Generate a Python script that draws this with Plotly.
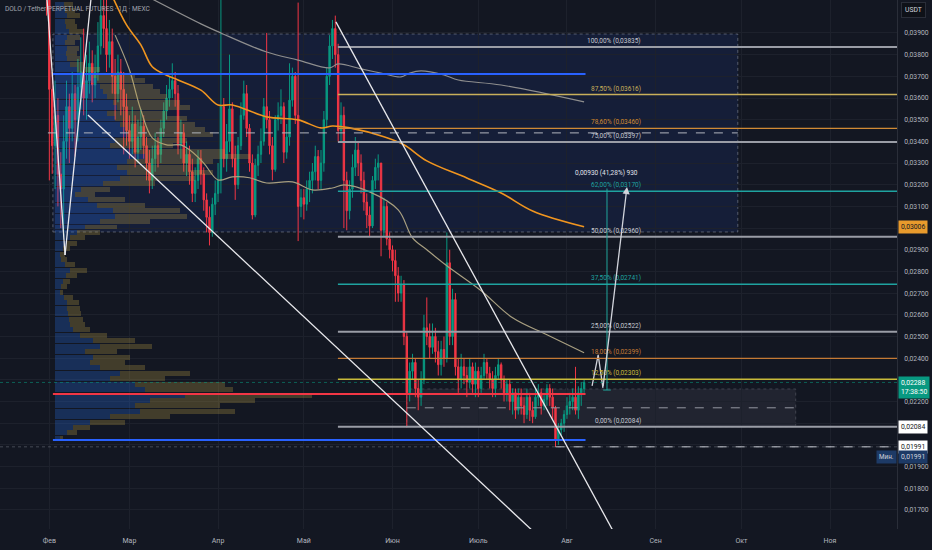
import plotly.graph_objects as go
import pandas as pd

# ---------------- data ----------------
START_DATE = "2025-01-31"
FIRST_OPEN = 0.0440
CLOSE = [
    # Jan 31 + Feb
    0.0415, 0.0364, 0.0338, 0.0352, 0.0325, 0.0318, 0.0340, 0.0356, 0.0346, 0.0362,
    0.0350, 0.0365, 0.0372, 0.0360, 0.0368, 0.0376, 0.0366, 0.0372, 0.0384, 0.0398,
    0.0392, 0.0380, 0.0386, 0.0370, 0.0362, 0.0372, 0.0364, 0.0356, 0.0345,
    # Mar
    0.0340, 0.0348, 0.0335, 0.0342, 0.0347, 0.0338, 0.0330, 0.0322, 0.0332, 0.0338,
    0.0334, 0.0346, 0.0354, 0.0360, 0.0364, 0.0368, 0.0362, 0.0338, 0.0344, 0.0330,
    0.0334, 0.0326, 0.0316, 0.0322, 0.0332, 0.0325, 0.0313, 0.0305, 0.0298, 0.0311,
    0.0316,
    # Apr
    0.0322, 0.0356, 0.0332, 0.0340, 0.0355, 0.0332, 0.0320, 0.0338, 0.0352, 0.0362,
    0.0346, 0.0330, 0.0306, 0.0329, 0.0334, 0.0340, 0.0356, 0.0350, 0.0338, 0.0327,
    0.0350, 0.0352, 0.0356, 0.0335, 0.0342, 0.0359, 0.0370, 0.0352, 0.0310, 0.0314,
    # May
    0.0311, 0.0318, 0.0322, 0.0326, 0.0333, 0.0322, 0.0330, 0.0350, 0.0370, 0.0384,
    0.0392, 0.0380, 0.0345, 0.0352, 0.0322, 0.0308, 0.0318, 0.0328, 0.0336, 0.0330,
    0.0322, 0.0312, 0.0306, 0.0301, 0.0322, 0.0328, 0.0330, 0.0299, 0.0310, 0.0295,
    0.0290,
    # Jun
    0.0285, 0.0278, 0.0270, 0.0274, 0.0250, 0.0224, 0.0234, 0.0238, 0.0226, 0.0222,
    0.0230, 0.0254, 0.0250, 0.0245, 0.0250, 0.0243, 0.0237, 0.0244, 0.0240, 0.0284,
    0.0250, 0.0267, 0.0236, 0.0230, 0.0236, 0.0232, 0.0229, 0.0236, 0.0228, 0.0234,
    # Jul
    0.0226, 0.0232, 0.0238, 0.0233, 0.0230, 0.0226, 0.0232, 0.0237, 0.0230, 0.0224,
    0.0228, 0.0220, 0.0224, 0.0216, 0.0222, 0.0218, 0.0214, 0.0222, 0.0216, 0.0213,
    0.0222, 0.0224, 0.0218, 0.0221, 0.0226, 0.0222, 0.0217, 0.0202, 0.0207, 0.0210,
    0.0214,
    # Aug
    0.0218, 0.0220, 0.0222, 0.0216, 0.0224, 0.0226, 0.02288,
]
HIGH = [
    0.0452, 0.0418, 0.0372, 0.0368, 0.0360, 0.0335, 0.0352, 0.0368, 0.0362, 0.0372,
    0.0366, 0.0378, 0.0388, 0.0392, 0.0380, 0.0386, 0.0382, 0.0380, 0.0395, 0.0412,
    0.0420, 0.0408, 0.0396, 0.0392, 0.0378, 0.0380, 0.0378, 0.0372, 0.0362,
    0.0352, 0.0356, 0.0352, 0.0350, 0.0355, 0.0352, 0.0342, 0.0336, 0.0338, 0.0344,
    0.0342, 0.0350, 0.0358, 0.0366, 0.0370, 0.0376, 0.0372, 0.0366, 0.0350, 0.0348,
    0.0340, 0.0338, 0.0332, 0.0328, 0.0336, 0.0336, 0.0328, 0.0316, 0.0310, 0.0314,
    0.0322,
    0.0330, 0.0412, 0.0360, 0.0348, 0.0380, 0.0358, 0.0338, 0.0342, 0.0358, 0.0368,
    0.0366, 0.0348, 0.0334, 0.0332, 0.0338, 0.0346, 0.0360, 0.0390, 0.0354, 0.0342,
    0.0352, 0.0358, 0.0364, 0.0358, 0.0348, 0.0376, 0.0374, 0.0372, 0.0404, 0.0318,
    0.0318, 0.0322, 0.0326, 0.0330, 0.0338, 0.0336, 0.0336, 0.0354, 0.0374, 0.0389,
    0.0396, 0.0398, 0.0385, 0.0358, 0.0356, 0.0326, 0.0322, 0.0334, 0.0342, 0.0340,
    0.0334, 0.0326, 0.0316, 0.0310, 0.0324, 0.0332, 0.0334, 0.0328, 0.0314, 0.0312,
    0.0298,
    0.0292, 0.0290, 0.0282, 0.0278, 0.0276, 0.0252, 0.0238, 0.0242, 0.0240, 0.0230,
    0.0234, 0.0260, 0.0268, 0.0256, 0.0256, 0.0254, 0.0248, 0.0248, 0.0250, 0.0298,
    0.0290, 0.0272, 0.0270, 0.0240, 0.0242, 0.0240, 0.0236, 0.0240, 0.0238, 0.0238,
    0.0236, 0.0236, 0.0242, 0.0240, 0.0236, 0.0234, 0.0236, 0.0240, 0.0238, 0.0232,
    0.0230, 0.0230, 0.0226, 0.0226, 0.0226, 0.0226, 0.0222, 0.0226, 0.0224, 0.0220,
    0.0226, 0.0228, 0.0226, 0.0224, 0.0228, 0.0228, 0.0226, 0.0218, 0.0210, 0.0212,
    0.0216,
    0.0222, 0.0224, 0.0226, 0.0236, 0.0227, 0.0229, 0.0230,
]
LOW = [
    0.0398, 0.0322, 0.0325, 0.0318, 0.0310, 0.0300, 0.0296, 0.0332, 0.0330, 0.0340,
    0.0333, 0.0340, 0.0355, 0.0352, 0.0350, 0.0362, 0.0358, 0.0360, 0.0368, 0.0380,
    0.0383, 0.0372, 0.0374, 0.0362, 0.0350, 0.0358, 0.0352, 0.0334, 0.0338,
    0.0332, 0.0334, 0.0328, 0.0330, 0.0336, 0.0332, 0.0322, 0.0316, 0.0318, 0.0326,
    0.0328, 0.0330, 0.0342, 0.0350, 0.0356, 0.0360, 0.0356, 0.0334, 0.0332, 0.0326,
    0.0324, 0.0320, 0.0312, 0.0312, 0.0318, 0.0320, 0.0308, 0.0298, 0.0292, 0.0296,
    0.0306,
    0.0312, 0.0316, 0.0328, 0.0326, 0.0335, 0.0328, 0.0313, 0.0318, 0.0336, 0.0350,
    0.0342, 0.0326, 0.0304, 0.0305, 0.0324, 0.0330, 0.0338, 0.0346, 0.0334, 0.0322,
    0.0326, 0.0345, 0.0348, 0.0330, 0.0332, 0.0338, 0.0356, 0.0348, 0.0294, 0.0305,
    0.0304, 0.0308, 0.0312, 0.0316, 0.0322, 0.0318, 0.0318, 0.0326, 0.0346, 0.0366,
    0.0378, 0.0374, 0.0340, 0.0340, 0.0300, 0.0299, 0.0304, 0.0314, 0.0324, 0.0324,
    0.0316, 0.0308, 0.0300, 0.0296, 0.0300, 0.0318, 0.0322, 0.0287, 0.0296, 0.0292,
    0.0286,
    0.0280, 0.0266, 0.0266, 0.0266, 0.0246, 0.0208, 0.0220, 0.0230, 0.0222, 0.0216,
    0.0218, 0.0228, 0.0246, 0.0240, 0.0242, 0.0238, 0.0232, 0.0232, 0.0236, 0.0238,
    0.0246, 0.0246, 0.0232, 0.0224, 0.0226, 0.0228, 0.0222, 0.0226, 0.0224, 0.0222,
    0.0222, 0.0224, 0.0230, 0.0230, 0.0226, 0.0222, 0.0222, 0.0230, 0.0226, 0.0220,
    0.0220, 0.0216, 0.0214, 0.0212, 0.0214, 0.0214, 0.0210, 0.0212, 0.0211, 0.0210,
    0.0212, 0.0218, 0.0214, 0.0216, 0.0218, 0.0218, 0.0212, 0.01991, 0.0200, 0.0204,
    0.0206,
    0.0212, 0.0214, 0.0216, 0.0214, 0.0212, 0.0218, 0.0224,
]

# moving averages (read at sample dates)
MA_SLOW_DATES = ["2025-03-07", "2025-03-26", "2025-04-02", "2025-04-18", "2025-04-29", "2025-05-10",
                 "2025-05-13", "2025-05-21", "2025-05-28", "2025-06-04", "2025-06-07", "2025-06-11",
                 "2025-06-19", "2025-06-24", "2025-07-09", "2025-08-07"]
MA_SLOW = [0.0407, 0.03942, 0.0390, 0.03812, 0.03775, 0.03739, 0.03757, 0.03734, 0.03715, 0.03697,
           0.03715, 0.03725, 0.03706, 0.03683, 0.0366, 0.03582]
MA_MID_DATES = ["2025-02-23", "2025-02-28", "2025-03-05", "2025-03-09", "2025-03-14", "2025-03-18",
                "2025-03-26", "2025-04-01", "2025-04-06", "2025-04-18", "2025-04-29", "2025-05-07",
                "2025-05-11", "2025-05-17", "2025-05-29", "2025-06-05", "2025-06-13", "2025-06-27",
                "2025-07-09", "2025-07-20", "2025-08-07"]
MA_MID = [0.0407, 0.03937, 0.03845, 0.03744, 0.03705, 0.03683, 0.03636, 0.03568, 0.03568, 0.03513,
          0.03499, 0.03462, 0.03471, 0.03462, 0.03421, 0.03384, 0.0331, 0.03231, 0.03162, 0.03079,
          0.03006]
MA_FAST_DATES = ["2025-02-24", "2025-03-01", "2025-03-05", "2025-03-09", "2025-03-14", "2025-03-19",
                 "2025-03-22", "2025-03-27", "2025-04-01", "2025-04-06", "2025-04-12", "2025-04-18",
                 "2025-04-27", "2025-05-04", "2025-05-11", "2025-05-15", "2025-05-24", "2025-06-03",
                 "2025-06-08", "2025-06-13", "2025-06-20", "2025-07-02", "2025-07-13", "2025-07-25",
                 "2025-08-07"]
MA_FAST = [0.0389, 0.0373, 0.03545, 0.03416, 0.03384, 0.03384, 0.03361, 0.0330, 0.03222, 0.03236,
           0.03232, 0.03208, 0.03213, 0.03176, 0.03185, 0.03199, 0.03167, 0.03084, 0.02955, 0.0290,
           0.02826, 0.02711, 0.02586, 0.02508, 0.02425]

# volume profile rows (price bins) : total and up volume
VP_FIRST, VP_STEP = 0.0203, 0.00025
VP_TOTAL = [8, 22, 35, 70, 115, 180, 165, 200, 257, 178, 170, 110, 135, 90, 70, 75, 62, 97, 80, 52,
            35, 30, 28, 26, 25, 24, 18, 8, 12, 15, 22, 32, 20, 12, 10, 15, 22, 30, 45, 62,
            95, 132, 125, 90, 70, 40, 55, 100, 140, 158, 135, 158, 195, 170, 118, 132, 158, 150, 140, 132,
            112, 135, 125, 112, 105, 98, 90, 80, 45, 30, 25, 22, 24, 20, 25, 28, 22, 20, 25, 20, 18]
VP_UP = [5, 12, 18, 35, 55, 85, 80, 95, 130, 90, 80, 55, 65, 45, 35, 38, 30, 45, 38, 25,
         18, 15, 14, 13, 12, 12, 9, 5, 6, 8, 11, 15, 10, 6, 5, 8, 11, 15, 22, 30,
         45, 60, 58, 42, 33, 20, 26, 48, 65, 72, 62, 72, 90, 78, 55, 60, 72, 70, 65, 60,
         52, 62, 58, 52, 48, 45, 42, 38, 22, 15, 12, 11, 12, 10, 12, 14, 11, 10, 12, 10, 9]

# fibonacci retracement
FIB_LEVEL = ["100,00%", "87,50%", "78,60%", "75,00%", "62,00%", "50,00%", "37,50%", "25,00%",
             "18,00%", "12,50%", "0,00%"]
FIB_PRICE = [0.03835, 0.03616, 0.03460, 0.03397, 0.03170, 0.02960, 0.02741, 0.02522,
             0.02399, 0.02303, 0.02084]
FIB_COLOR = ["#9a9da6", "#c9b05a", "#d08a35", "#9a9da6", "#1fa3a0", "#9a9da6", "#1fa3a0", "#9a9da6",
             "#c47a35", "#c9bb3a", "#9a9da6"]
FIB_START = "2025-05-12 22:00"
FIB_LABEL_END = "2025-08-27 18:00"

# key horizontal levels
POC_PRICE = 0.02235
VA_HIGH, VA_LOW = 0.03711, 0.02023
PROFILE_START, PROFILE_END = "2025-02-02 06:00", "2025-08-07 12:00"
DASH_TOP = 0.03439
MIN_PRICE = 0.01991
MIN_DATE = "2025-07-28 00:00"
LAST_PRICE = 0.02288
MA_LAST = 0.03006

# drawn boxes
BIG_BOX = ("2025-02-02 06:00", "2025-09-29 18:00", 0.02982, 0.03895)
RANGE_BOX = ("2025-06-06 00:00", "2025-10-20 00:00", 0.02084, 0.02258)

# trend lines (date, price, date, price)
TRENDS = [
    ("2025-01-31 04:00", 0.04060, "2025-02-06 12:00", 0.02876),
    ("2025-02-06 12:00", 0.02876, "2025-02-15 14:00", 0.04060),
    ("2025-02-14 12:00", 0.03522, "2025-07-20 19:00", 0.01594),
    ("2025-05-12 05:00", 0.03951, "2025-08-17 12:00", 0.01594),
]
ZIGZAG_DATES = ["2025-08-09 19:00", "2025-08-11 22:00", "2025-08-13 14:00"]
ZIGZAG_PRICES = [0.02272, 0.02415, 0.02263]
ARROW_TIP = ("2025-08-22 00:00", 0.0319)
MEASURE = ("2025-08-15 00:00", 0.02253, 0.03183)
MEASURE_TEXT = "0,00930 (41,28%) 930"

MONTH_TICKS = ["2025-02-01", "2025-03-01", "2025-04-01", "2025-05-01", "2025-06-01", "2025-07-01",
               "2025-08-01", "2025-09-01", "2025-10-01", "2025-11-01"]
MONTH_LABELS = ["Фев", "Мар", "Апр", "Май", "Июн", "Июль", "Авг", "Сен", "Окт", "Ноя"]
PRICE_TICKS = [0.017, 0.018, 0.019, 0.020, 0.021, 0.022, 0.023, 0.024, 0.025, 0.026, 0.027, 0.028,
               0.029, 0.030, 0.031, 0.032, 0.033, 0.034, 0.035, 0.036, 0.037, 0.038, 0.039]
PRICE_TICK_LABELS = ["0,01700", "0,01800", "0,01900", "", "", "0,02200", "", "0,02400", "0,02500",
                     "0,02600", "0,02700", "0,02800", "0,02900", "", "0,03100", "0,03200", "0,03300",
                     "0,03400", "0,03500", "0,03600", "0,03700", "0,03800", "0,03900"]

X_RANGE = ["2025-01-14 18:00", "2025-11-24 10:00"]
Y_RANGE = [0.01612, 0.04052]

# ---------------- styling ----------------
BG = "#131722"
UP = "#089981"
DN = "#f23645"
TXT = "#b2b5be"
FONT = "Roboto"


def fmt(p):
    return f"{p:.5f}".replace(".", ",")


dates = pd.date_range(START_DATE, periods=len(CLOSE), freq="D")
opens = [FIRST_OPEN] + CLOSE[:-1]
highs = [max(h, o, c) for h, o, c in zip(HIGH, opens, CLOSE)]
lows = [min(l, o, c) for l, o, c in zip(LOW, opens, CLOSE)]
vp_prices = [round(VP_FIRST + VP_STEP * k, 5) for k in range(len(VP_TOTAL))]
vp_down = [t - u for t, u in zip(VP_TOTAL, VP_UP)]

fig = go.Figure()

# volume profile on hidden overlay axis (units = pixels)
fig.add_trace(go.Bar(x=VP_UP, y=vp_prices, orientation="h", xaxis="x2", yaxis="y",
                     width=0.00023, marker=dict(color="rgba(41,110,230,0.28)", line=dict(width=0)),
                     hoverinfo="skip"))
fig.add_trace(go.Bar(x=vp_down, y=vp_prices, orientation="h", xaxis="x2", yaxis="y",
                     width=0.00023, marker=dict(color="rgba(190,160,70,0.28)", line=dict(width=0)),
                     hoverinfo="skip"))

fig.add_trace(go.Candlestick(
    x=dates, open=opens, high=highs, low=lows, close=CLOSE,
    increasing=dict(line=dict(color=UP, width=1), fillcolor=UP),
    decreasing=dict(line=dict(color=DN, width=1), fillcolor=DN),
    whiskerwidth=0, hoverinfo="skip"))

fig.add_trace(go.Scatter(x=MA_SLOW_DATES, y=MA_SLOW, mode="lines",
                         line=dict(color="#8e8e8e", width=1.2, shape="spline"), hoverinfo="skip"))
fig.add_trace(go.Scatter(x=MA_MID_DATES, y=MA_MID, mode="lines",
                         line=dict(color="#f0951f", width=1.6, shape="spline"), hoverinfo="skip"))
fig.add_trace(go.Scatter(x=MA_FAST_DATES, y=MA_FAST, mode="lines",
                         line=dict(color="#a89f80", width=1.2, shape="spline"), hoverinfo="skip"))

# zigzag projection
fig.add_trace(go.Scatter(x=ZIGZAG_DATES, y=ZIGZAG_PRICES, mode="lines",
                         line=dict(color="#d1d4dc", width=1.3), hoverinfo="skip"))

shapes = []
# big translucent box
shapes.append(dict(type="rect", xref="x", yref="y", x0=BIG_BOX[0], x1=BIG_BOX[1], y0=BIG_BOX[2],
                   y1=BIG_BOX[3], fillcolor="rgba(41,98,255,0.10)",
                   line=dict(color="rgba(140,145,160,0.55)", width=1, dash="dot"), layer="below"))
# range box
shapes.append(dict(type="rect", xref="x", yref="y", x0=RANGE_BOX[0], x1=RANGE_BOX[1], y0=RANGE_BOX[2],
                   y1=RANGE_BOX[3], fillcolor="rgba(120,123,134,0.14)",
                   line=dict(color="rgba(120,123,134,0.4)", width=1, dash="dot"), layer="below"))
shapes.append(dict(type="line", xref="x", yref="y", x0=RANGE_BOX[0], x1=RANGE_BOX[1],
                   y0=(RANGE_BOX[2] + RANGE_BOX[3]) / 2, y1=(RANGE_BOX[2] + RANGE_BOX[3]) / 2,
                   line=dict(color="#9598a1", width=1, dash="dash")))
# dashed top line inside big box
shapes.append(dict(type="line", xref="x", yref="y", x0="2025-01-31 12:00", x1=BIG_BOX[1],
                   y0=DASH_TOP, y1=DASH_TOP, line=dict(color="#b2b5be", width=1, dash="dash")))
# last price dotted line
shapes.append(dict(type="line", xref="x", yref="y", x0=X_RANGE[0], x1=X_RANGE[1],
                   y0=LAST_PRICE, y1=LAST_PRICE, line=dict(color="rgba(8,153,129,0.55)", width=1, dash="dot")))
# min price lines
shapes.append(dict(type="line", xref="x", yref="y", x0=X_RANGE[0], x1=X_RANGE[1],
                   y0=MIN_PRICE, y1=MIN_PRICE, line=dict(color="rgba(120,123,134,0.5)", width=1, dash="dot")))
shapes.append(dict(type="line", xref="x", yref="y", x0=MIN_DATE, x1=X_RANGE[1],
                   y0=MIN_PRICE, y1=MIN_PRICE, line=dict(color="#c5c8d0", width=1, dash="dash")))
# fib lines
for p, c in zip(FIB_PRICE, FIB_COLOR):
    w = 2 if c == "#9a9da6" else 1.4
    shapes.append(dict(type="line", xref="x", yref="y", x0=FIB_START, x1=X_RANGE[1], y0=p, y1=p,
                       line=dict(color=c, width=w)))
# profile lines
shapes.append(dict(type="line", xref="x", yref="y", x0=PROFILE_START, x1=PROFILE_END,
                   y0=VA_HIGH, y1=VA_HIGH, line=dict(color="#2962ff", width=2)))
shapes.append(dict(type="line", xref="x", yref="y", x0=PROFILE_START, x1=PROFILE_END,
                   y0=VA_LOW, y1=VA_LOW, line=dict(color="#2962ff", width=2)))
shapes.append(dict(type="line", xref="x", yref="y", x0=PROFILE_START, x1=PROFILE_END,
                   y0=POC_PRICE, y1=POC_PRICE, line=dict(color="#f23645", width=2)))
# trend lines
for x0, y0, x1, y1 in TRENDS:
    shapes.append(dict(type="line", xref="x", yref="y", x0=x0, y0=y0, x1=x1, y1=y1,
                       line=dict(color="#e8e8ec", width=1.3)))
# measure tool
shapes.append(dict(type="line", xref="x", yref="y", x0=MEASURE[0], x1=MEASURE[0], y0=MEASURE[1],
                   y1=MEASURE[2], line=dict(color="rgba(34,171,160,0.8)", width=1.2)))
shapes.append(dict(type="line", xref="x", yref="y", x0="2025-08-13 16:00", x1="2025-08-16 08:00",
                   y0=MEASURE[1], y1=MEASURE[1], line=dict(color="rgba(34,171,160,0.8)", width=1.2)))

annotations = []
for lvl, p, c in zip(FIB_LEVEL, FIB_PRICE, FIB_COLOR):
    tc = "#c5c8d0" if c == "#9a9da6" else c
    annotations.append(dict(x=FIB_LABEL_END, y=p, xref="x", yref="y", xanchor="right", yanchor="bottom",
                            yshift=0, showarrow=False, text=f"{lvl} ({fmt(p)})",
                            font=dict(family=FONT, size=6.5, color=tc)))
annotations.append(dict(x=MEASURE[0], y=MEASURE[2], xref="x", yref="y", xanchor="center", yanchor="bottom",
                        yshift=9, showarrow=False, text=MEASURE_TEXT,
                        font=dict(family=FONT, size=6.5, color="#e0e3eb")))
annotations.append(dict(x=ARROW_TIP[0], y=ARROW_TIP[1], ax=ZIGZAG_DATES[-1], ay=ZIGZAG_PRICES[-1],
                        xref="x", yref="y", axref="x", ayref="y", showarrow=True, arrowhead=2,
                        arrowsize=1.1, arrowwidth=1.3, arrowcolor="#d1d4dc", text=""))
# title
annotations.append(dict(x=0, y=1, xref="paper", yref="paper", xanchor="left", yanchor="top",
                        xshift=3, yshift=-3, showarrow=False,
                        text="DOLO / Tether PERPETUAL FUTURES · 1Д · MEXC",
                        font=dict(family=FONT, size=6.6, color="#a3a6af")))
# USDT box
annotations.append(dict(x=1, y=1, xref="paper", yref="paper", xanchor="left", yanchor="top",
                        xshift=4, yshift=-2, showarrow=False, text="USDT",
                        font=dict(family=FONT, size=6.8, color="#d1d4dc"), bgcolor="#0e1118",
                        bordercolor="#2a2e39", borderwidth=1, borderpad=3))


def price_label(p, text, bg, fg, yshift=0, yanchor="middle"):
    return dict(x=1, y=p, xref="paper", yref="y", xanchor="left", yanchor=yanchor, xshift=1, yshift=yshift,
                showarrow=False, text=text, font=dict(family=FONT, size=6.8, color=fg), bgcolor=bg,
                borderpad=2, align="left")


annotations.append(price_label(MA_LAST, fmt(MA_LAST), "#e89a2c", "#131722"))
annotations.append(price_label(LAST_PRICE, fmt(LAST_PRICE) + "<br>17:38:50", UP, "#ffffff", yshift=6,
                               yanchor="top"))
annotations.append(price_label(0.02084, fmt(0.02084), "#ffffff", "#131722"))
annotations.append(price_label(MIN_PRICE, fmt(MIN_PRICE), "#ffffff", "#131722"))
annotations.append(price_label(MIN_PRICE, fmt(MIN_PRICE), "#1d3a66", "#d1d4dc", yshift=-10))
annotations.append(dict(x=1, y=MIN_PRICE, xref="paper", yref="y", xanchor="right", yanchor="middle",
                        xshift=0, yshift=-10, showarrow=False, text="Мин.",
                        font=dict(family=FONT, size=6.3, color="#d1d4dc"), bgcolor="#1d3a66", borderpad=2))

fig.update_layout(
    width=932, height=550,
    margin=dict(l=0, r=35, t=0, b=21),
    paper_bgcolor=BG, plot_bgcolor=BG,
    showlegend=False, hovermode=False,
    barmode="stack",
    separators=", ",
    shapes=shapes, annotations=annotations,
    xaxis=dict(type="date", range=X_RANGE, tickvals=MONTH_TICKS, ticktext=MONTH_LABELS,
               showgrid=True, gridcolor="#1d212c", gridwidth=1, zeroline=False, showline=False,
               ticks="", tickfont=dict(family=FONT, size=7, color=TXT), rangeslider=dict(visible=False),
               fixedrange=True, ticklabelstandoff=6),
    xaxis2=dict(overlaying="x", range=[-55, 842], visible=False, anchor="y", fixedrange=True),
    yaxis=dict(side="right", range=Y_RANGE, tickvals=PRICE_TICKS, ticktext=PRICE_TICK_LABELS,
               showgrid=True, gridcolor="#1d212c", gridwidth=1, zeroline=False,
               showline=True, linecolor="#2a2e39", ticks="",
               tickfont=dict(family=FONT, size=6.8, color=TXT), fixedrange=True, automargin=False,
               ticklabelstandoff=5),
    font=dict(family=FONT),
)

fig.write_html("out.html", config={"displayModeBar": False},
               post_script="document.body.style.margin='0';document.body.style.overflow='hidden';")
